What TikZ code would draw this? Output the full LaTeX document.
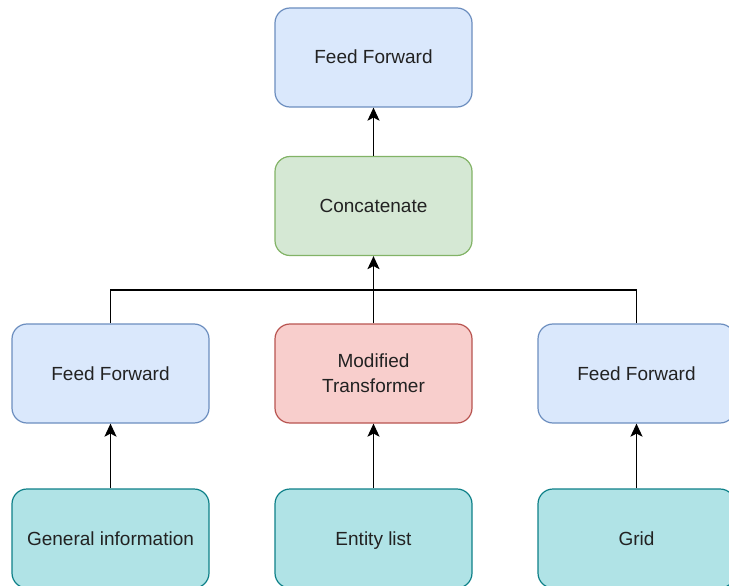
\documentclass[tikz,border=0pt]{standalone}
\usepackage{fontspec}
\setmainfont{Liberation Sans}
\usetikzlibrary{arrows.meta}
\definecolor{blueFill}{HTML}{DAE8FC}\definecolor{blueLine}{HTML}{6C8EBF}
\definecolor{greenFill}{HTML}{D5E8D4}\definecolor{greenLine}{HTML}{82B366}
\definecolor{redFill}{HTML}{F8CECC}\definecolor{redLine}{HTML}{B85450}
\definecolor{tealFill}{HTML}{B0E3E6}\definecolor{tealLine}{HTML}{0E8088}
\definecolor{ink}{HTML}{222222}
\tikzset{
  block/.style={rectangle, rounded corners=15pt, minimum width=197pt, minimum height=99pt,
    line width=1.2pt, align=center, text=ink, font=\fontsize{19}{25}\selectfont,
    inner sep=0pt, text height=17pt, text depth=4pt},
  ffbox/.style={block, fill=blueFill, draw=blueLine},
  catbox/.style={block, fill=greenFill, draw=greenLine},
  tfbox/.style={block, fill=redFill, draw=redLine},
  inbox/.style={block, fill=tealFill, draw=tealLine},
  link/.style={line width=1.5pt, black},
  arrowlink/.style={link, -{Stealth[length=13pt, width=12pt, inset=3pt]}}
}
\begin{document}
\begin{tikzpicture}[x=1pt, y=-1pt]
  \useasboundingbox (0,0) rectangle (729,586);
  \clip (0,0) rectangle (729,586);
  % output head
  \node[ffbox] (out) at (373.5,57.5) {Feed Forward};
  \node[catbox] (cat) at (373.5,206) {Concatenate};
  % encoders
  \node[ffbox] (ffL) at (110.5,373.5) {Feed Forward};
  \node[tfbox, text height=, text depth=] (tf) at (373.5,373.5) {Modified\\Transformer};
  \node[ffbox] (ffR) at (636.5,373.5) {Feed Forward};
  % inputs
  \node[inbox] (gen) at (110.5,538.5) {General information};
  \node[inbox] (ent) at (373.5,538.5) {Entity list};
  \node[inbox] (grid) at (636.5,538.5) {Grid};
  % connectors
  \coordinate (bus) at (373.5,290);
  \draw[arrowlink] (gen) -- (ffL);
  \draw[arrowlink] (ent) -- (tf);
  \draw[arrowlink] (grid) -- (ffR);
  \draw[link] (ffL.north) |- (bus);
  \draw[link] (ffR.north) |- (bus);
  \draw[arrowlink] (tf) -- (cat);
  \draw[arrowlink] (cat) -- (out);
\end{tikzpicture}
\end{document}
